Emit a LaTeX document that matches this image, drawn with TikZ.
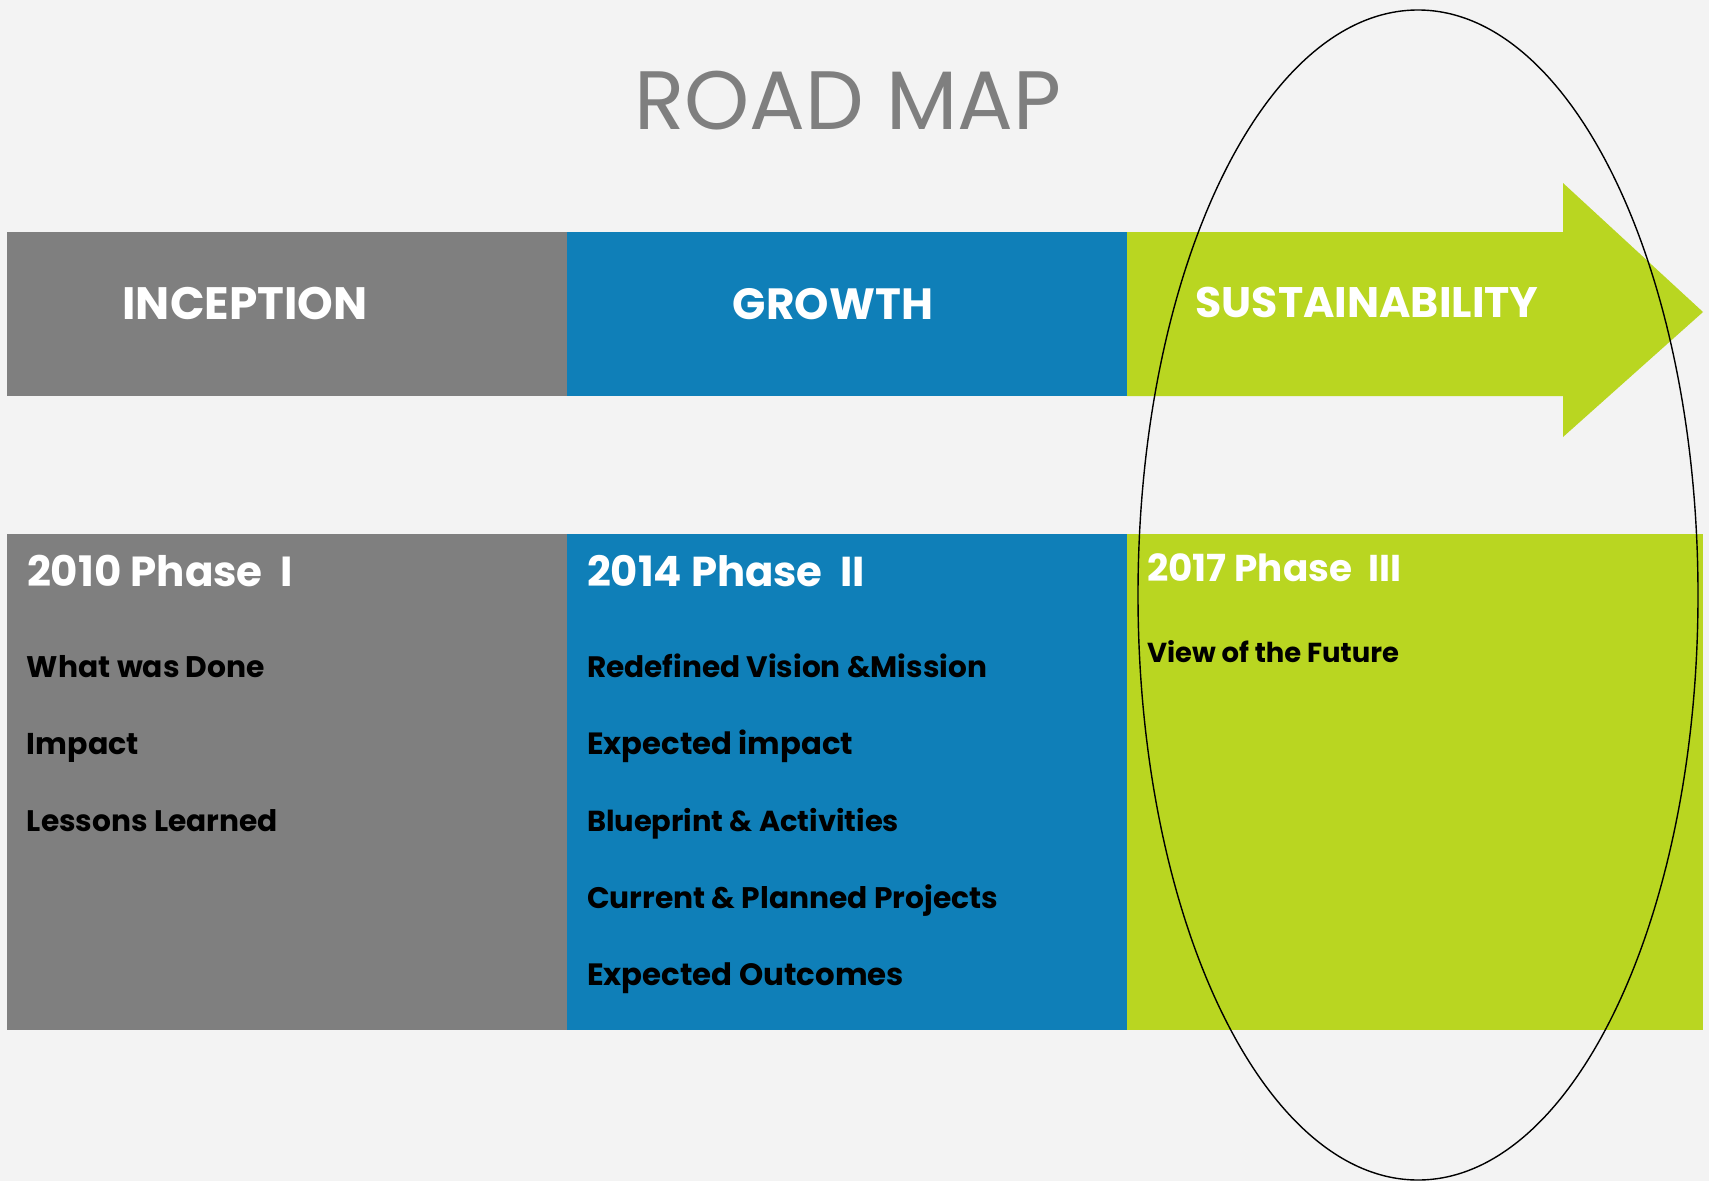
\documentclass[tikz,border=0pt]{standalone}
\usepackage{fontspec}
\usepackage{graphicx}
\setmainfont{Poppins}
\definecolor{bgc}{HTML}{F3F3F3}
\definecolor{gr}{HTML}{7F7F7F}
\definecolor{bl}{HTML}{0F7FB8}
\definecolor{gn}{HTML}{B9D621}
\newcommand\fitw[2]{\resizebox{#1pt}{!}{#2}}
\tikzset{
  lbl/.style={inner sep=0pt, outer sep=0pt, anchor=base west},
  ctr/.style={inner sep=0pt, outer sep=0pt, anchor=base},
  head/.style={lbl, text=white, font=\bfseries},
  item/.style={lbl, text=black, font=\bfseries},
  band/.style={text=white, font=\bfseries, ctr}
}
\begin{document}
\begin{tikzpicture}[x=1pt,y=-1pt]
\useasboundingbox (0,0) rectangle (1709,1181);
\fill[bgc] (0,0) rectangle (1709,1181);
% title
\node[ctr, text=gr] (title) at (848,129) {\fitw{427}{ROAD MAP}};
% top band
\fill[gr] (7,232) rectangle (567,396);
\fill[bl] (567,232) rectangle (1127,396);
\fill[gn] (1127,232) -- (1563,232) -- (1563,183) -- (1703,312) -- (1563,437) -- (1563,396) -- (1127,396) -- cycle;
\node[band] (inc) at (245,319) {\fitw{245}{INCEPTION}};
\node[band] (gro) at (833,319) {\fitw{200}{GROWTH}};
\node[band] (sus) at (1367,317) {\fitw{343}{SUSTAINABILITY}};
% bottom band
\fill[gr] (7,534) rectangle (567,1030);
\fill[bl] (567,534) rectangle (1127,1030);
\fill[gn] (1127,534) rectangle (1703,1030);
% column 1
\node[head] (p1) at (27,586) {\fitw{266}{2010 Phase\ \ I}};
\node[item] (a1) at (27,677) {\fitw{238}{What was Done}};
\node[item] (a2) at (27,754) {\fitw{112}{Impact}};
\node[item] (a3) at (27,831) {\fitw{251}{Lessons Learned}};
% column 2
\node[head] (p2) at (587,586) {\fitw{278}{2014 Phase\ \ II}};
\node[item] (b1) at (587,677) {\fitw{400}{Redefined Vision \&Mission}};
\node[item] (b2) at (587,754) {\fitw{266}{Expected impact}};
\node[item] (b3) at (587,831) {\fitw{312}{Blueprint \& Activities}};
\node[item] (b4) at (587,908) {\fitw{411}{Current \& Planned Projects}};
\node[item] (b5) at (587,985) {\fitw{317}{Expected Outcomes}};
% column 3
\node[head] (p3) at (1147,581) {\fitw{254}{2017 Phase\ \ III}};
\node[item] (c1) at (1147,662) {\fitw{252}{View of the Future}};
% ellipse
\draw[black, line width=1.4pt] (1418,595) ellipse [x radius=280, y radius=585];
\end{tikzpicture}
\end{document}
